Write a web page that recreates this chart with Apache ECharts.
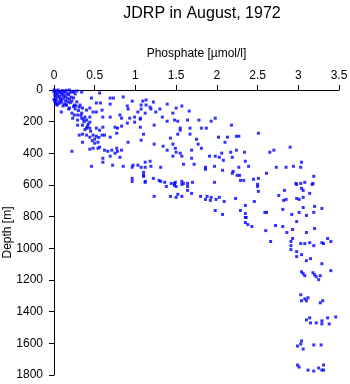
<!DOCTYPE html>
<html>
<head>
<meta charset="utf-8">
<script src="https://cdn.jsdelivr.net/npm/echarts@6/dist/echarts.min.js"></script>
<style>html,body{margin:0;padding:0;background:#fff}#c{width:350px;height:384px}</style>
</head>
<body>
<div id="c"></div>
<script>
const titleText = "JDRP in August, 1972";
const xName = "Phosphate [\u00b5mol/l]";
const yName = "Depth [m]";
const xTicks = [0, 0.5, 1, 1.5, 2, 2.5, 3, 3.5];
const yTicks = [0, 200, 400, 600, 800, 1000, 1200, 1400, 1600, 1800];

// [phosphate, depth] samples
const surfaceSamples = [
[0,0],[0.02,5],[0.05,0],[0.08,10],[0.1,3],[0.13,8],[0.15,2],[0.03,20],[0.06,15],[0.09,25],[0.12,18],[0.16,22],
[0.01,35],[0.04,30],[0.07,40],[0.11,33],[0.14,38],[0.18,30],[0.02,50],[0.05,45],[0.08,55],[0.12,48],[0.16,52],
[0,60],[0.03,65],[0.07,70],[0.1,62],[0.14,68],[0.19,58],[0.02,80],[0.06,85],[0.09,78],[0.13,88],[0.17,75],
[0.21,45],[0.2,15],[0.23,8],[0.26,25],[0.22,70],[0.04,95],[0.11,100],[0,12],[0.01,72],[0.15,95],[0.24,50],
[0.19,0],[0.24,13],[0.28,6],[0.34,13],[0.56,19],[0.46,51],[0.52,82],[0.69,51],[0.73,51],[0.85,44],[0.96,70],
[0.57,82],[0.69,89],[0.9,101],[0.91,120],[1.03,139],[0.03,89],[0.09,139],[0.15,95],[0.19,114],[0.25,95],
[0.31,108],[0.35,114],[0.4,127],[0.44,114],[0.48,139],[0.22,146],[0.25,158],[0.29,158],[0.34,146],[0.38,171],
[0.44,171],[0.52,139],[0.59,127],[0.6,171],[0.69,171],[0.81,158],[0.83,178],[0.93,178],[0.99,171],[1.06,178],
[0.23,178],[0.29,190],[0.34,178],[0.4,190],[0.44,203],[0.29,222],[0.35,222],[0.4,241],[0.44,241],[0.52,241],
[0.56,254],[0.6,235],[0.75,235],[0.78,241],[0.83,228],[0.9,209],[0.99,203],[1.06,235],[0.31,285],[0.35,279],
[0.4,285],[0.44,298],[0.48,285],[0.52,292],[0.59,285],[0.62,285],[0.69,298],[0.77,273],[0.35,330],[0.5,336],
[0.54,330],[0.48,368],[0.44,374],[0.54,368],[0.56,361],[0.62,380],[0.66,387],[0.71,380],[0.77,368],[0.83,380],
[0.91,330],[0.22,387],[0.78,387],[0.6,431],[0.69,418],[0.75,399],[0.81,425],[0.6,456],[0.46,482],[0.72,475],
[0.85,482],[0.97,475],[0.96,488],[1.03,475],
[0.2,80],[0.27,100],[0.3,130],[0.33,160],[0.37,200],[0.41,230],[0.45,260],[0.38,250],[0.42,215],[0.36,185],
[0.26,120],[0.32,95],[0.5,310],[0.47,320],[0.55,300],[0.28,75],[0.18,120],[0.24,105]
];
const midSamples = [
[0.96,558],[0.96,577],[1.1,545],[1.12,577],[1.1,520],
[1.09,70],[1.13,63],[1.07,95],[1.13,95],[1.18,108],[1.19,120],[1.22,76],[1.07,120],[1.12,146],[1.06,184],
[1.25,139],[1.3,120],[1.39,89],[1.5,114],[1.57,101],[1.46,146],[1.66,133],[1.33,171],[1.39,197],[1.48,190],
[1.52,197],[1.64,190],[1.78,190],[1.98,178],[1.93,197],[1.23,222],[1.55,241],[1.55,254],[1.67,241],[1.81,241],
[1.87,241],[2.18,222],[1.67,279],[1.52,279],[1.1,279],[1.43,304],[1.07,317],[1.75,311],[2.02,298],[2.13,298],
[2.24,292],[1.23,342],[1.34,355],[1.46,342],[1.77,342],[1.81,368],[2.1,330],[2.24,380],[1.49,368],[1.39,380],
[1.5,393],[1.55,399],[1.69,380],[2.06,399],[2.17,393],[1.46,418],[1.57,418],[1.69,431],[1.91,418],[1.98,418],
[2.03,425],[2.19,425],[2.08,444],[1.12,456],[1.18,450],[1.19,482],[1.07,488],[1.12,488],[1.31,488],[1.59,469],
[1.72,469],[1.86,488],[1.86,501],[1.97,482],[2.07,507],[2.2,514],[2.27,488],[1.1,539],[1.22,558],[1.12,583],
[1.29,571],[1.31,577],[1.36,583],[1.48,590],[1.49,583],[1.57,577],[1.59,590],[1.64,590],[1.7,583],[1.97,583],
[2.19,526],[2.25,539],[1.44,590],
[1.38,609],[1.48,602],[1.5,609],[1.57,596],[1.64,609],[1.64,634],[1.69,653],[1.23,672],[1.43,672],[1.52,659],
[1.5,678],[1.57,672],[1.8,672],[1.88,672],[1.86,691],[1.92,697],[1.93,678],[1.99,691],[2.03,678],[2.09,704],
[2.23,685],[2.35,729],[1.98,761],[2.07,786],[2.29,761],[2.35,780],[2.35,805],[2.35,837],[2.38,850]
];
const deepSamples = [
[2.27,292],[2.51,273],[2.34,393],[2.7,380],[2.65,393],[2.9,361],[2.35,450],[2.39,482],[3.04,456],[2.73,488],
[2.85,488],[2.94,482],[3.03,488],[2.28,539],[3.19,545],[2.29,571],[2.33,571],[2.45,564],[2.51,558],[2.61,526],
[2.97,590],[3.03,590],[3.08,583],[3.18,590],[2.5,596],
[2.5,609],[2.51,640],[2.83,634],[2.98,596],[3.17,596],[3.04,621],[3.06,634],[2.76,666],[3.14,653],[2.46,704],
[2.85,691],[2.82,697],[2.98,685],[3.01,691],[3.06,678],[3.2,735],[3.29,748],[3.06,742],[2.81,754],[2.59,773],
[2.61,773],[2.92,786],[3.01,773],[3.1,792],[3.19,773],[2.36,805],[2.43,862],[2.98,831],[2.72,856],[2.81,862],
[2.93,881],[2.6,888],[2.86,900],[3.1,900],[3.2,875],[2.93,938],[2.66,957],[2.91,957],[2.91,983],[3.03,970],
[3.08,970],[3.14,964],[3.19,983],[3.29,964],[3.31,970],[3.36,938],[3.4,957],[2.91,1008],[2.98,1021],[2.98,1052],
[3.04,1040],[3.1,1078],[3.15,1065],[3.29,1097],[3.04,1148],[3.06,1160],[3.08,1173],[3.18,1154],[3.2,1167],
[3.22,1179],[3.27,1173],[3.25,1198],[3.4,1141],
[3.03,1293],[3.04,1331],[3.08,1319],[3.1,1331],[3.12,1312],[3.27,1344],[3.3,1331],[3.1,1452],[3.14,1439],
[3.15,1471],[3.22,1471],[3.29,1458],[3.29,1477],[3.36,1439],[3.38,1477],[3.46,1433],[3.04,1585],[3.03,1604],
[2.99,1617],[3.06,1636],[3.19,1610],[3.28,1610],[2.99,1737],[3.01,1750],[3.12,1769],[3.19,1775],[3.25,1756],
[3.29,1769],[3.31,1769],[3.31,1737]
];

const FONT = "'Liberation Sans', Arial, Helvetica, sans-serif";
const chart = echarts.init(document.getElementById('c'), null, {renderer: 'canvas'});
const mk = (name, data) => ({
  name, type: 'scatter', data, symbol: 'rect', symbolSize: 3,
  itemStyle: {color: '#0000ff'}, animation: false, silent: true
});
chart.setOption({
  animation: false,
  backgroundColor: '#ffffff',
  title: {
    text: titleText, left: 197, top: 1, textAlign: 'center',
    textStyle: {fontFamily: FONT, fontSize: 16, fontWeight: 'normal', color: '#000'}
  },
  grid: {left: 54, right: 11, top: 90, bottom: 9, containLabel: false, outerBoundsMode: 'none'},
  xAxis: {
    type: 'value', position: 'top', min: xTicks[0], max: xTicks[xTicks.length - 1], interval: 0.5,
    name: xName, nameLocation: 'middle', nameGap: 30, nameMoveOverlap: false,
    nameTextStyle: {fontFamily: FONT, fontSize: 12, color: '#000'},
    axisLine: {show: true, onZero: false, lineStyle: {color: '#000', width: 1}},
    axisTick: {show: true, length: 5, lineStyle: {color: '#000'}},
    axisLabel: {fontFamily: FONT, fontSize: 12, color: '#000', margin: 8, formatter: v => String(v)},
    splitLine: {show: false}
  },
  yAxis: {
    type: 'value', inverse: true, min: yTicks[0], max: yTicks[yTicks.length - 1], interval: 200,
    name: yName, nameLocation: 'middle', nameGap: 40, nameRotate: 90, nameMoveOverlap: false,
    nameTextStyle: {fontFamily: FONT, fontSize: 12, color: '#000'},
    axisLine: {show: true, onZero: false, lineStyle: {color: '#000', width: 1}},
    axisTick: {show: true, length: 5, lineStyle: {color: '#000'}},
    axisLabel: {fontFamily: FONT, fontSize: 12, color: '#000', margin: 11, formatter: v => String(v)},
    splitLine: {show: false}
  },
  series: [mk('surface', surfaceSamples), mk('mid', midSamples), mk('deep', deepSamples)]
});
</script>
</body>
</html>
